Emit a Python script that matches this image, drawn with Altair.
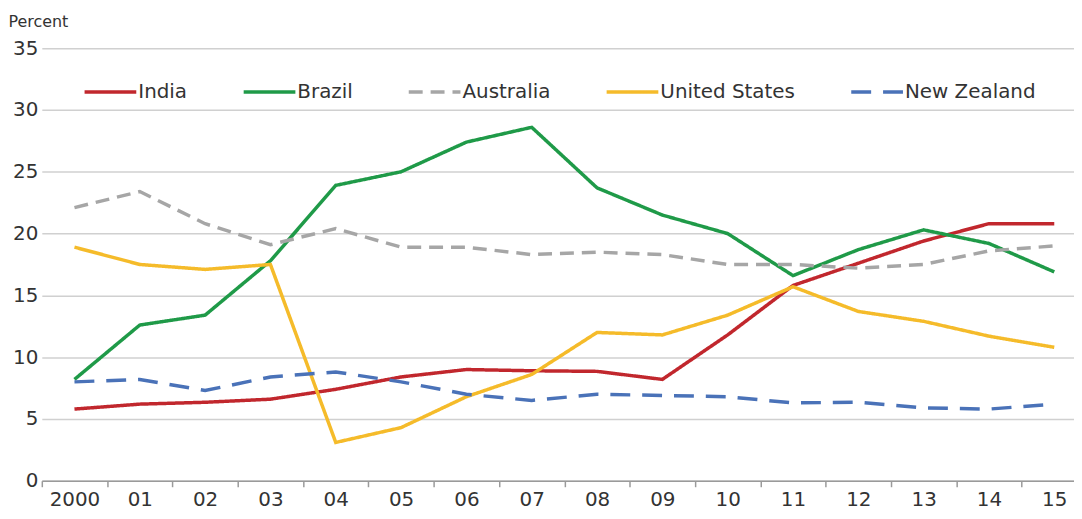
import altair as alt
import pandas as pd

years = ["2000", "01", "02", "03", "04", "05", "06", "07", "08", "09",
         "10", "11", "12", "13", "14", "15"]
countries = ["India", "Brazil", "Australia", "United States", "New Zealand"]

india = [5.8, 6.2, 6.35, 6.6, 7.4, 8.4, 9.0, 8.9, 8.85, 8.2, 11.8, 15.8, 17.6, 19.4, 20.8, 20.8]
brazil = [8.2, 12.6, 13.4, 17.8, 23.9, 25.0, 27.4, 28.6, 23.7, 21.5, 20.0, 16.6, 18.7, 20.3, 19.2, 16.9]
australia = [22.1, 23.4, 20.8, 19.1, 20.4, 18.9, 18.9, 18.3, 18.5, 18.3, 17.5, 17.5, 17.2, 17.5, 18.6, 19.0]
united_states = [18.9, 17.5, 17.1, 17.5, 3.1, 4.3, 6.8, 8.6, 12.0, 11.8, 13.4, 15.7, 13.7, 12.9, 11.7, 10.8]
new_zealand = [8.0, 8.2, 7.3, 8.4, 8.8, 8.0, 7.0, 6.5, 7.0, 6.9, 6.8, 6.3, 6.35, 5.9, 5.8, 6.2]

colors = ["#c1272d", "#1f9a48", "#a6a6a6", "#f5bb2a", "#4a72b8"]
dashes = [[1, 0], [1, 0], [14, 8], [1, 0], [20, 12]]

rows = []
for c, vals in zip(countries, [india, brazil, australia, united_states, new_zealand]):
    for yr, v in zip(years, vals):
        rows.append({"year": yr, "country": c, "value": v})
df = pd.DataFrame(rows)

FONT = "DejaVu Sans"

chart = alt.Chart(df).mark_line(strokeWidth=3.5).encode(
    x=alt.X("year:N", sort=years,
            scale=alt.Scale(domain=years, paddingInner=0, paddingOuter=0),
            axis=alt.Axis(title=None, labelAngle=0, tickBand="extent", labelFont=FONT,
                          labelFontSize=20, labelColor="#333333", tickSize=6,
                          tickColor="#9a9a9a", tickWidth=1.5, domainColor="#9a9a9a",
                          domainWidth=1.5, labelPadding=3, grid=False)),
    y=alt.Y("value:Q", scale=alt.Scale(domain=[0, 35], nice=False),
            axis=alt.Axis(values=[0, 5, 10, 15, 20, 25, 30, 35], title="Percent",
                          titleAngle=0, titleX=-34, titleY=-22, titleAlign="left",
                          titleBaseline="alphabetic", titleFont=FONT, titleFontSize=16,
                          titleFontWeight="normal", titleColor="#333333",
                          labelFont=FONT, labelFontSize=20, labelColor="#333333",
                          ticks=False, domain=False, labelPadding=4,
                          gridColor="#d0d0d0", gridWidth=1.5)),
    color=alt.Color("country:N", scale=alt.Scale(domain=countries, range=colors),
                    legend=alt.Legend(title=None)),
    strokeDash=alt.StrokeDash("country:N", scale=alt.Scale(domain=countries, range=dashes),
                              legend=alt.Legend(title=None)),
).properties(
    width=1051, height=435,
    autosize=alt.AutoSizeParams(type="none"),
    padding={"left": 34, "top": 39, "right": -13, "bottom": 30},
).configure_view(stroke=None).configure_legend(
    orient="none", legendX=41, legendY=16, direction="horizontal",
    symbolType="stroke", symbolSize=2704, symbolStrokeWidth=3.5,
    labelFont=FONT, labelFontSize=20, labelColor="#333333", labelOffset=0,
    columnPadding=49, labelLimit=0, symbolOpacity=1,
)

chart.save("out.html", embed_options={"renderer": "svg", "actions": False})
